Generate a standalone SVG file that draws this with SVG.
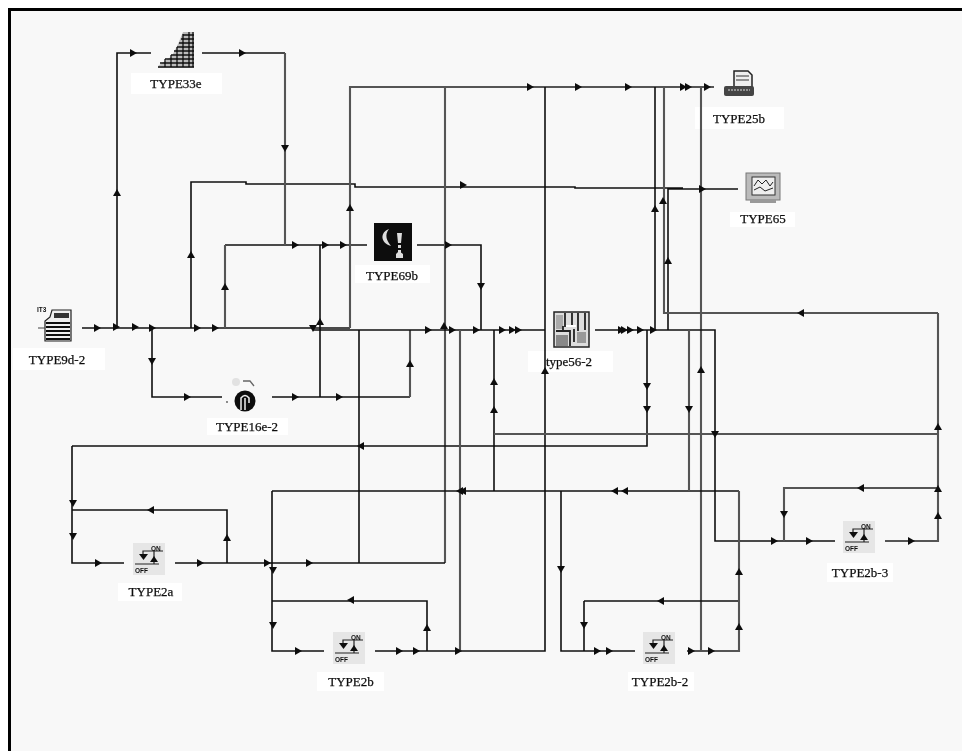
<svg xmlns="http://www.w3.org/2000/svg" width="962" height="751" viewBox="0 0 962 751">
<style>
.d{fill:none;stroke:#111;stroke-width:1.6}
.g{fill:none;stroke:#555;stroke-width:2.1}
.lb{fill:#fff}
text{font-family:"Liberation Serif","Times New Roman",serif;font-size:13px;fill:#111;stroke:#111;stroke-width:0.25;text-anchor:middle}
.s{font-family:"Liberation Sans",Arial,sans-serif;font-size:6.5px;font-weight:bold;stroke:none;text-anchor:start}
</style>
<defs>
<filter id="soft" x="0" y="0" width="100%" height="100%"><feGaussianBlur stdDeviation="0.4"/></filter>
<path id="r" d="M-3-4L4 0L-3 4Z" fill="#111"/>
<path id="l" d="M3-4L-4 0L3 4Z" fill="#111"/>
<path id="u" d="M-4 3L0-4L4 3Z" fill="#111"/>
<path id="n" d="M-4-3L0 4L4-3Z" fill="#111"/>
<g id="sw">
<rect width="32" height="32" fill="#e6e6e6"/>
<path d="M10 13V8H30M21 8V21M2 21H26" fill="none" stroke="#222" stroke-width="1.2"/>
<path d="M6 11H15L10.500 17Z" fill="#111"/>
<path d="M21 13L25 19H17Z" fill="#111"/>
<text class="s" x="18" y="8">ON</text>
<text class="s" x="2" y="30">OFF</text>
</g>
</defs>
<rect width="962" height="751" fill="#fff"/>
<rect x="11" y="11" width="951" height="740" fill="#f8f8f8"/>
<path d="M9.500 751V9.500H962" fill="none" stroke="#000" stroke-width="3"/>
<g filter="url(#soft)">
<g id="TYPE33e">
<rect class="lb" x="131" y="73" width="91" height="21"/>
<path d="M158 66L172 56L178 44L183 32H194V68H158Z" fill="#bbb"/>
<path d="M158 67H194M160 63H194M165 59H194M171 55H194M174 51H194M177 47H194M179 43H194M181 39H194M183 35H194M165 67V59M171 67V55M177 67V47M183 67V34M189 67V32M193 67V32" stroke="#111" stroke-width="1.300" fill="none"/>
<text x="176" y="88">TYPE33e</text>
</g>
<g id="TYPE69b">
<rect class="lb" x="355" y="265" width="75" height="18"/>
<rect x="374" y="223" width="38" height="38" fill="#111"/>
<path d="M389 229C380 232 380 243 391 246C387 241 384 235 389 229Z" fill="#ddd"/>
<path d="M397 233H402L401 243H398ZM398 245H401V248H398ZM398 250H401V253H398ZM396 254L399 251L403 254V258H396Z" fill="#ddd"/>
<text x="392" y="280">TYPE69b</text>
</g>
<g id="TYPE9d-2">
<rect class="lb" x="13" y="348" width="92" height="22"/>
<path d="M50 317L45 321V341H71V310H52Z" fill="#eee" stroke="#222" stroke-width="1.2"/>
<rect x="54" y="313" width="15" height="5" fill="#333"/>
<path d="M46 323H70M46 327H70M46 331H70M46 335H70M46 339H70" stroke="#111" stroke-width="2"/>
<path d="M38 328H45" stroke="#444"/>
<text class="s" x="37" y="312">IT3</text>
<text x="57" y="364">TYPE9d-2</text>
</g>
<g id="TYPE16e-2">
<rect class="lb" x="207" y="418" width="81" height="17"/>
<circle cx="245" cy="401" r="10.500" fill="#111"/>
<path d="M241 410V398Q245 393 249 398V403M245 398V410" fill="none" stroke="#eee" stroke-width="1.500"/>
<circle cx="236" cy="382" r="4" fill="#e2e2e2"/>
<path d="M243 381H250L254 386" fill="none" stroke="#666" stroke-width="1.300"/>
<circle cx="227" cy="402" r="0.900" fill="#555"/>
<text x="247" y="431">TYPE16e-2</text>
</g>
<g id="type56-2">
<rect class="lb" x="528" y="351" width="85" height="21"/>
<rect x="554" y="312" width="35" height="35" fill="#ddd" stroke="#222" stroke-width="1.500"/>
<rect x="556" y="315" width="7" height="14" fill="#aaa"/>
<path d="M565 313V327M572 313V326M578 313V331M585 313V330M556 331H570V346M563 326V331M574 329V342" stroke="#222" stroke-width="1.800" fill="none"/>
<rect x="556" y="335" width="12" height="11" fill="#888"/>
<rect x="577" y="332" width="9" height="11" fill="#999"/>
<path d="M566 326H576" stroke="#fff" stroke-width="2"/>
<text x="569" y="366">type56-2</text>
</g>
<g id="TYPE25b">
<rect class="lb" x="695" y="107" width="89" height="22"/>
<path d="M734 71H748L752 75V88H734Z" fill="#eee" stroke="#222" stroke-width="1.500"/>
<path d="M736 76H749M736 80H749" stroke="#333"/>
<rect x="724" y="86" width="30" height="10" rx="2" fill="#444"/>
<path d="M728 90H750" stroke="#ddd" stroke-dasharray="2 1"/>
<text x="739" y="123">TYPE25b</text>
</g>
<g id="TYPE65">
<rect class="lb" x="730" y="212" width="65" height="15"/>
<rect x="746" y="173" width="34" height="27" fill="#bbb" stroke="#777"/>
<rect x="752" y="177" width="23" height="18" fill="#eee" stroke="#333"/>
<path d="M754 186L758 180L762 184L766 180L770 186L773 182M754 190L760 187L765 191L773 188" fill="none" stroke="#222"/>
<rect x="750" y="200" width="26" height="3" fill="#999"/>
<text x="763" y="223">TYPE65</text>
</g>
<g id="TYPE2a"><rect class="lb" x="118" y="583" width="64" height="18"/><use href="#sw" x="133" y="543"/><text x="151" y="596">TYPE2a</text></g>
<g id="TYPE2b"><rect class="lb" x="317" y="672" width="67" height="19"/><use href="#sw" x="333" y="632"/><text x="351" y="686">TYPE2b</text></g>
<g id="TYPE2b-2"><rect class="lb" x="628" y="672" width="66" height="19"/><use href="#sw" x="643" y="632"/><text x="660" y="686">TYPE2b-2</text></g>
<g id="TYPE2b-3"><rect class="lb" x="827" y="563" width="66" height="19"/><use href="#sw" x="843" y="521"/><text x="860" y="577">TYPE2b-3</text></g>
<g id="connectors">
<path class="d" d="M82 328H350M117 328V53H151M202 53H285M191 328V182H246V184H355V187H575V188H683M668 330V189H738M225 245H367M417 245H481V330"/>
<path class="g" d="M285 53V245M350 328V87H714M445 87V563M664 87V313H938M225 328V245M701 87V651"/>
<path class="d" d="M545 87V651H375M655 87V330M320 245V397M152 328V397H222M272 397H410"/>
<path class="g" d="M410 397V330"/>
<path class="d" d="M313 330H545M595 330H715V541H835M359 330V563M72 446H647V330M72 446V563H124M72 510H227V563M175 563H445"/>
<path class="d" d="M272 491H739M272 491V651H324M272 601H427V651M494 330V491M561 491V651H635M584 601H739M584 601V651"/>
<path class="g" d="M460 330V651M494 434H938M689 330V491M739 491V651H687M784 541V488H938M885 541H938V313"/>
<use href="#r" x="133" y="53"/><use href="#r" x="242" y="53"/><use href="#n" x="285" y="148"/>
<use href="#u" x="117" y="193"/><use href="#u" x="191" y="255"/><use href="#u" x="225" y="287"/><use href="#u" x="350" y="208"/>
<use href="#r" x="97" y="328"/><use href="#r" x="116" y="327"/><use href="#r" x="135" y="327"/><use href="#r" x="152" y="328"/><use href="#r" x="197" y="328"/><use href="#r" x="215" y="328"/>
<use href="#n" x="152" y="361"/><use href="#r" x="187" y="397"/><use href="#r" x="295" y="397"/><use href="#r" x="339" y="397"/><use href="#u" x="410" y="364"/>
<use href="#u" x="320" y="322"/><use href="#n" x="313" y="328"/>
<use href="#r" x="295" y="245"/><use href="#r" x="325" y="245"/><use href="#r" x="343" y="245"/><use href="#r" x="448" y="245"/><use href="#n" x="481" y="286"/>
<use href="#r" x="463" y="185"/><use href="#r" x="702" y="189"/>
<use href="#r" x="530" y="87"/><use href="#r" x="578" y="87"/><use href="#r" x="628" y="87"/><use href="#r" x="683" y="87"/><use href="#r" x="688" y="87"/><use href="#r" x="707" y="87"/>
<use href="#u" x="655" y="209"/><use href="#u" x="663" y="201"/><use href="#u" x="668" y="261"/>
<use href="#r" x="428" y="330"/><use href="#u" x="444" y="326"/><use href="#r" x="452" y="330"/><use href="#r" x="476" y="330"/><use href="#r" x="502" y="330"/><use href="#r" x="512" y="330"/><use href="#r" x="518" y="330"/>
<use href="#r" x="621" y="330"/><use href="#r" x="624" y="330"/><use href="#r" x="630" y="330"/><use href="#r" x="640" y="330"/><use href="#r" x="653" y="330"/>
<use href="#l" x="801" y="313"/><use href="#u" x="545" y="371"/><use href="#u" x="701" y="370"/>
<use href="#u" x="494" y="382"/><use href="#u" x="494" y="410"/><use href="#n" x="647" y="386"/><use href="#n" x="647" y="409"/><use href="#n" x="689" y="409"/>
<use href="#l" x="361" y="446"/><use href="#n" x="715" y="434"/>
<use href="#l" x="460" y="491"/><use href="#l" x="463" y="491"/><use href="#l" x="615" y="491"/><use href="#l" x="625" y="491"/>
<use href="#n" x="73" y="503"/><use href="#n" x="73" y="536"/><use href="#l" x="151" y="510"/><use href="#u" x="227" y="538"/>
<use href="#r" x="98" y="563"/><use href="#r" x="200" y="563"/><use href="#r" x="267" y="563"/><use href="#r" x="309" y="563"/>
<use href="#n" x="273" y="570"/><use href="#n" x="273" y="625"/><use href="#l" x="351" y="600"/><use href="#u" x="427" y="628"/>
<use href="#r" x="298" y="651"/><use href="#r" x="399" y="651"/><use href="#r" x="416" y="651"/><use href="#r" x="458" y="651"/>
<use href="#n" x="561" y="569"/><use href="#n" x="584" y="625"/><use href="#l" x="661" y="601"/><use href="#r" x="597" y="651"/><use href="#r" x="609" y="651"/>
<use href="#r" x="691" y="651"/><use href="#r" x="711" y="651"/><use href="#u" x="739" y="572"/><use href="#u" x="739" y="627"/>
<use href="#r" x="774" y="541"/><use href="#r" x="809" y="541"/><use href="#r" x="911" y="541"/><use href="#n" x="784" y="514"/><use href="#l" x="861" y="488"/>
<use href="#u" x="938" y="516"/><use href="#u" x="938" y="489"/><use href="#u" x="938" y="427"/>
</g>
</g>
</svg>
